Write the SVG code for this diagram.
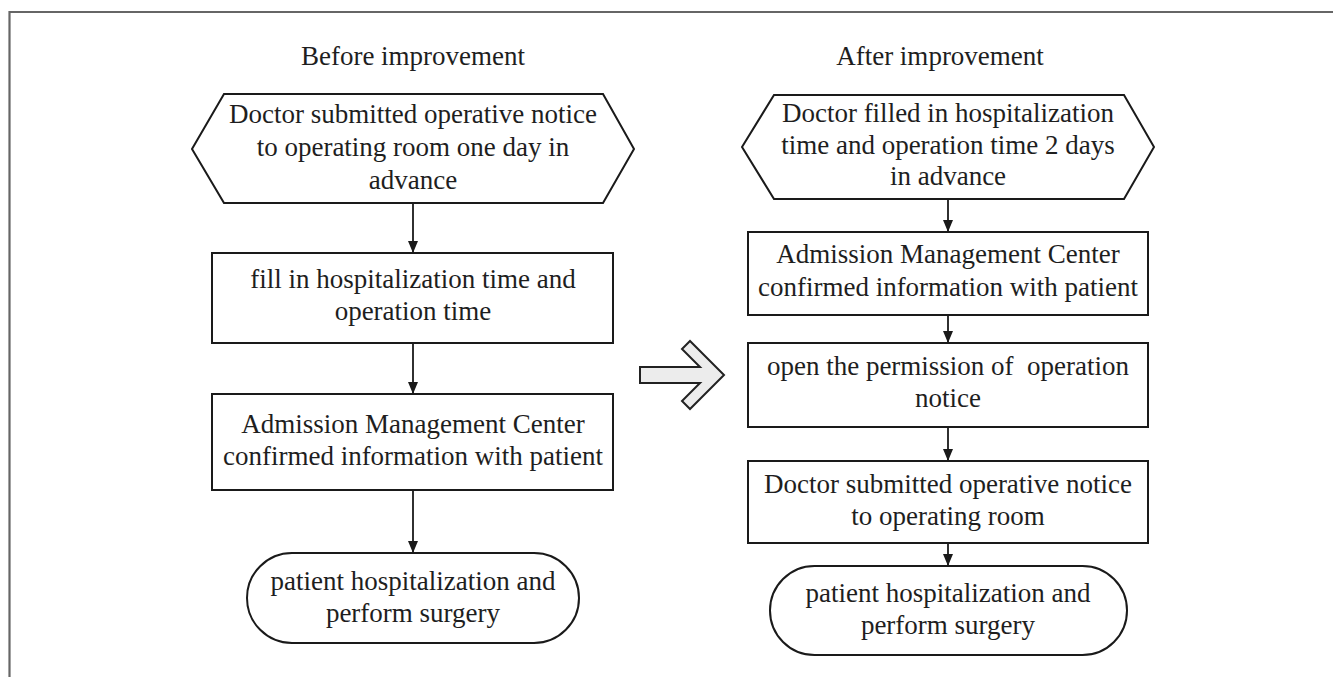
<svg xmlns="http://www.w3.org/2000/svg" width="1333" height="677" viewBox="0 0 1333 677">
<style>
  .shape { fill: #ffffff; stroke: #1a1a1a; stroke-width: 2; }
  .lbl { font-family: "Liberation Serif", "Times New Roman", serif; font-size: 27px; fill: #1e1e1e; text-anchor: middle; }
  .conn { stroke: #1a1a1a; stroke-width: 1.8; fill: none; marker-end: url(#ah); }
  .frame { stroke: #666666; stroke-width: 2.2; fill: none; }
</style>
<defs>
  <marker id="ah" viewBox="0 0 12 10" refX="12" refY="5" markerWidth="12" markerHeight="10" markerUnits="userSpaceOnUse" orient="auto">
    <path d="M0,0 L12,5 L0,10 z" fill="#1a1a1a"/>
  </marker>
</defs>
<rect width="1333" height="677" fill="#ffffff"/>
<g id="frame">
  <line class="frame" x1="9" y1="12" x2="1333" y2="12"/>
  <line class="frame" x1="9.5" y1="11" x2="9.5" y2="677" stroke="#444444"/>
</g>
<g id="titles">
  <text class="lbl" x="413" y="65">Before improvement</text>
  <text class="lbl" x="940" y="65">After improvement</text>
</g>
<g id="connectors">
  <line class="conn" x1="413" y1="203" x2="413" y2="253"/>
  <line class="conn" x1="413" y1="343" x2="413" y2="394"/>
  <line class="conn" x1="413" y1="490" x2="413" y2="553"/>
  <line class="conn" x1="948" y1="199" x2="948" y2="232"/>
  <line class="conn" x1="948" y1="315" x2="948" y2="343"/>
  <line class="conn" x1="948" y1="427" x2="948" y2="461"/>
  <line class="conn" x1="948" y1="543" x2="948" y2="566"/>
</g>
<g id="before-start">
  <polygon class="shape" points="192,149 224,94 603,94 634,149 603,203 224,203"/>
  <text class="lbl" x="413" y="123">Doctor submitted operative notice</text>
  <text class="lbl" x="413" y="156">to operating room one day in</text>
  <text class="lbl" x="413" y="189">advance</text>
</g>
<g id="before-fill">
  <rect class="shape" x="212" y="253" width="401" height="90"/>
  <text class="lbl" x="413" y="288">fill in hospitalization time and</text>
  <text class="lbl" x="413" y="320">operation time</text>
</g>
<g id="before-confirm">
  <rect class="shape" x="212" y="394" width="401" height="96"/>
  <text class="lbl" x="413" y="433">Admission Management Center</text>
  <text class="lbl" x="413" y="465">confirmed information with patient</text>
</g>
<g id="before-end">
  <rect class="shape" x="247" y="553" width="332" height="90" rx="45" ry="45"/>
  <text class="lbl" x="413" y="590">patient hospitalization and</text>
  <text class="lbl" x="413" y="622">perform surgery</text>
</g>
<g id="improve-arrow">
  <polygon points="640,367 700,367 682,349 690,341 724,375 690,409 682,401 700,383 640,383" fill="#ececec" stroke="#222222" stroke-width="2" stroke-linejoin="miter"/>
</g>
<g id="after-start">
  <polygon class="shape" points="742,147 774,95 1124,95 1154,147 1124,199 774,199"/>
  <text class="lbl" x="948" y="122">Doctor filled in hospitalization</text>
  <text class="lbl" x="948" y="154">time and operation time 2 days</text>
  <text class="lbl" x="948" y="185">in advance</text>
</g>
<g id="after-confirm">
  <rect class="shape" x="748" y="232" width="400" height="83"/>
  <text class="lbl" x="948" y="263">Admission Management Center</text>
  <text class="lbl" x="948" y="296">confirmed information with patient</text>
</g>
<g id="after-permission">
  <rect class="shape" x="748" y="343" width="400" height="84"/>
  <text class="lbl" x="948" y="375" xml:space="preserve">open the permission of  operation</text>
  <text class="lbl" x="948" y="407">notice</text>
</g>
<g id="after-submit">
  <rect class="shape" x="748" y="461" width="400" height="82"/>
  <text class="lbl" x="948" y="493">Doctor submitted operative notice</text>
  <text class="lbl" x="948" y="525">to operating room</text>
</g>
<g id="after-end">
  <rect class="shape" x="770" y="566" width="357" height="89" rx="44.5" ry="44.5"/>
  <text class="lbl" x="948" y="602">patient hospitalization and</text>
  <text class="lbl" x="948" y="634">perform surgery</text>
</g>
</svg>
